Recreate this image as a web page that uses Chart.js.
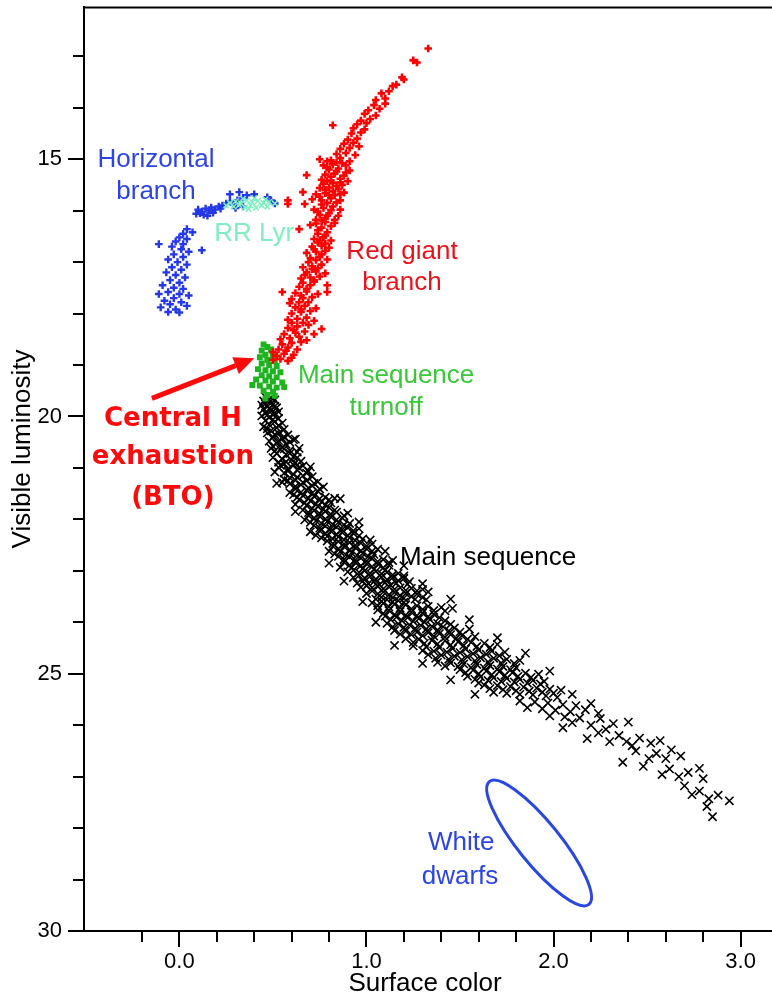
<!DOCTYPE html>
<html>
<head>
  <meta charset="UTF-8">
  <title>Diagrama color-magnitud de un cúmulo globular</title>
  <script src="https://cdn.jsdelivr.net/npm/chart.js"></script>
  <style>
    html, body { margin: 0; padding: 0; background: #fff; overflow: hidden; }
    #caja { width: 792px; height: 1000px; }
  </style>
</head>
<body>
  <div id="caja"><canvas id="grafico"></canvas></div>

  <script>
    // estrellas de la rama horizontal [color, magnitud]
    const ramaHorizontal = [
      [0.10,15.98],[0.12,16.02],[0.14,15.96],[0.16,16.00],[0.11,16.05],[0.13,16.08],[0.09,16.06],[0.15,16.10],
      [0.17,15.94],[0.19,15.98],[0.21,15.92],[0.18,16.04],[0.23,15.90],[0.25,15.86],[0.22,15.96],[0.27,15.82],
      [0.29,15.88],[0.31,15.80],[0.27,15.68],[0.32,15.64],[0.34,15.75],[0.36,15.70],[0.40,15.68],[0.30,15.95],
      [0.34,15.92],[0.49,15.80],[0.51,15.86],[0.47,15.74],
      [0.04,16.36],[0.07,16.42],[0.02,16.45],[-0.11,16.65],[0.12,16.77],[0.00,16.52],[0.04,16.55],[-0.02,16.60],
      [0.02,16.65],[-0.04,16.70],[0.01,16.75],[0.05,16.80],[-0.03,16.85],[0.02,16.90],[-0.06,16.95],[-0.01,17.00],
      [0.04,17.05],[-0.04,17.10],[0.01,17.15],[-0.07,17.20],[-0.02,17.25],[0.03,17.30],[-0.05,17.35],[0.00,17.40],
      [-0.09,17.45],[-0.03,17.50],[0.02,17.52],[-0.06,17.58],[0.00,17.62],[0.05,17.65],[-0.11,17.62],[-0.03,17.70],
      [-0.08,17.75],[0.01,17.78],[-0.05,17.82],[0.04,17.85],[-0.10,17.88],[-0.02,17.92],[-0.06,17.97],[0.00,17.98]
    ];

    // variables RR Lyrae
    const rrLyr = [
      [0.27,15.85],[0.30,15.82],[0.33,15.86],[0.36,15.80],[0.39,15.84],[0.42,15.81],[0.45,15.85],[0.48,15.83],
      [0.51,15.86],[0.29,15.92],[0.32,15.89],[0.35,15.93],[0.38,15.90],[0.41,15.94],[0.44,15.90],[0.47,15.92],
      [0.34,15.77],[0.40,15.76],[0.46,15.78],[0.25,15.90],[0.37,15.97]
    ];

    // rama de gigantes rojas
    const gigantesRojas = [
      [0.50,18.90],[0.54,18.88],[0.58,18.92],[0.52,18.82],[0.56,18.78],[0.61,18.80],[0.53,18.70],[0.58,18.66],
      [0.63,18.70],[0.55,18.60],[0.60,18.57],[0.50,18.75],
      [0.54,18.50],[0.59,18.48],[0.64,18.45],[0.68,18.52],[0.56,18.40],[0.62,18.37],[0.67,18.35],[0.72,18.40],
      [0.58,18.28],[0.63,18.25],[0.69,18.22],[0.76,18.30],[0.60,18.18],
      [0.58,18.12],[0.63,18.10],[0.68,18.08],[0.72,18.14],[0.60,18.00],[0.65,17.97],[0.70,17.95],[0.62,17.88],
      [0.67,17.85],[0.73,17.90],[0.59,17.80],[0.64,17.78],
      [0.55,17.58],[0.60,17.72],[0.66,17.70],[0.71,17.68],[0.62,17.60],[0.68,17.57],[0.74,17.62],[0.64,17.48],
      [0.70,17.45],[0.79,17.45],[0.79,17.58],[0.66,17.40],[0.72,17.38],
      [0.65,17.32],[0.70,17.30],[0.75,17.28],[0.68,17.20],[0.73,17.18],[0.78,17.22],[0.66,17.10],[0.71,17.08],
      [0.76,17.05],[0.69,17.00],
      [0.70,16.92],[0.75,16.90],[0.79,16.95],[0.68,16.82],[0.73,16.80],[0.78,16.78],[0.71,16.70],[0.76,16.68],
      [0.80,16.72],[0.74,16.62],
      [0.64,16.36],[0.70,16.28],[0.72,16.55],[0.77,16.52],[0.81,16.58],[0.74,16.45],[0.79,16.42],[0.76,16.33],
      [0.81,16.30],[0.73,16.25],[0.78,16.22],
      [0.58,15.80],[0.58,15.87],[0.67,15.87],[0.73,16.18],[0.78,16.15],[0.83,16.18],[0.75,16.08],[0.80,16.05],
      [0.85,16.10],[0.72,15.98],[0.77,15.95],[0.82,15.92],[0.86,15.98],[0.79,15.85],
      [0.66,15.64],[0.71,15.78],[0.76,15.80],[0.81,15.76],[0.86,15.80],[0.73,15.68],[0.78,15.66],[0.83,15.70],
      [0.88,15.65],[0.75,15.56],[0.80,15.55],[0.85,15.58],[0.77,15.48],[0.82,15.46],[0.87,15.50],
      [0.68,15.31],[0.76,15.40],[0.81,15.42],[0.86,15.38],[0.90,15.43],[0.78,15.30],[0.83,15.28],[0.88,15.32],
      [0.80,15.20],[0.85,15.18],[0.91,15.22],[0.77,15.12],[0.82,15.10],[0.87,15.08],
      [0.75,15.00],[0.81,15.02],[0.86,14.98],[0.91,15.04],[0.84,14.90],[0.89,14.88],[0.94,14.92],[0.86,14.80],
      [0.91,14.78],[0.88,14.70],[0.93,14.68],[0.96,14.75],
      [0.82,14.34],[0.90,14.62],[0.95,14.60],[0.92,14.50],[0.97,14.48],[0.93,14.40],[0.99,14.42],[0.95,14.32],
      [1.00,14.30],
      [0.97,14.25],[1.02,14.22],[0.99,14.12],[1.05,14.15],[1.01,14.05],[1.07,14.02],[1.04,13.95],[1.10,13.92],
      [1.05,13.85],[1.10,13.82],[1.08,13.72],[1.12,13.68],[1.14,13.58],[1.16,13.55],[1.19,13.41],[1.20,13.45],
      [1.25,13.08],[1.27,13.12],[1.33,12.85],
      [0.79,15.04],[0.84,15.06],[0.89,15.12],[0.79,15.16],[0.84,15.24],[0.89,15.26],[0.81,15.34],[0.86,15.45],
      [0.79,15.43],[0.84,15.52],[0.78,15.60],[0.82,15.62],[0.86,15.68],[0.75,15.73],[0.80,15.70],[0.84,15.84],
      [0.76,15.88],[0.81,15.99],[0.74,16.02],[0.79,16.10],[0.83,16.24],[0.76,16.19],[0.74,16.38],[0.78,16.48],
      [0.75,16.58],[0.78,16.64],[0.72,16.75],[0.76,16.85],[0.73,16.96],[0.71,17.14],[0.74,17.12],[0.67,17.25],
      [0.72,17.35],[0.68,17.52],[0.65,17.65],[0.69,17.78],[0.65,17.92],[0.66,18.18],[0.61,18.32],[0.65,18.55],
      [0.57,18.72],[0.60,18.86]
    ];

    // punto de desvío de la secuencia principal
    const puntoDesvio = [
      [0.45,18.60],[0.47,18.65],[0.44,18.72],[0.49,18.70],[0.46,18.80],[0.50,18.82],[0.43,18.85],[0.47,18.90],
      [0.51,18.92],[0.44,18.97],[0.48,19.00],[0.52,19.02],[0.42,19.08],[0.46,19.10],[0.50,19.12],[0.54,19.14],
      [0.44,19.20],[0.48,19.22],[0.52,19.24],[0.41,19.28],[0.46,19.30],[0.50,19.32],[0.55,19.34],[0.39,19.39],
      [0.43,19.40],[0.48,19.42],[0.52,19.44],[0.56,19.43],[0.45,19.50],[0.50,19.52],[0.47,19.58],[0.51,19.60],
      [0.46,19.65]
    ];

    // secuencia principal
    const secuenciaPrincipal = [
      [0.46,19.62],[0.49,19.64],[0.51,19.68],[0.45,19.70],[0.48,19.73],[0.50,19.77],[0.44,19.78],
      [0.47,19.81],[0.52,19.83],[0.45,19.86],[0.49,19.88],[0.53,19.91],[0.46,19.94],[0.50,19.97],[0.44,19.99],
      [0.48,20.02],[0.53,20.04],[0.46,20.08],[0.51,20.10],[0.55,20.13],[0.48,20.16],[0.45,20.20],[0.52,20.22],
      [0.56,20.25],[0.49,20.28],
      [0.47,20.32],[0.53,20.33],[0.58,20.36],[0.50,20.40],[0.55,20.43],[0.61,20.45],[0.48,20.48],[0.52,20.52],
      [0.57,20.54],[0.62,20.44],[0.50,20.58],[0.55,20.59],
      [0.49,20.62],[0.54,20.64],[0.59,20.66],[0.63,20.69],[0.52,20.72],[0.57,20.74],[0.61,20.78],[0.50,20.80],
      [0.55,20.83],[0.60,20.85],[0.65,20.87],[0.53,20.89],
      [0.56,20.92],[0.61,20.94],[0.66,20.96],[0.53,20.99],[0.58,21.02],[0.63,21.04],[0.69,21.06],[0.51,21.08],
      [0.56,21.10],[0.61,21.13],[0.66,21.15],[0.71,21.17],[0.59,21.19],
      [0.56,21.22],[0.62,21.24],[0.68,21.25],[0.74,21.27],[0.55,21.28],[0.59,21.31],[0.65,21.33],[0.71,21.35],
      [0.77,21.37],[0.62,21.41],[0.68,21.43],[0.74,21.45],[0.59,21.48],
      [0.61,21.52],[0.66,21.54],[0.72,21.55],[0.78,21.57],[0.83,21.59],[0.64,21.62],[0.70,21.64],[0.76,21.66],
      [0.81,21.68],[0.62,21.71],[0.68,21.73],[0.74,21.75],[0.80,21.77],
      [0.66,21.82],[0.72,21.83],[0.78,21.85],[0.84,21.86],[0.90,21.88],[0.69,21.92],[0.75,21.94],[0.81,21.95],
      [0.87,21.97],[0.67,22.01],[0.73,22.03],[0.79,22.04],[0.85,22.06],[0.91,22.08],
      [0.72,22.12],[0.78,22.13],[0.84,22.15],[0.90,22.16],[0.96,22.18],[0.75,22.22],[0.81,22.23],[0.87,22.25],
      [0.93,22.27],[0.73,22.31],[0.79,22.33],[0.85,22.34],[0.91,22.36],[0.98,22.38],[1.02,22.40],
      [0.79,22.42],[0.85,22.43],[0.91,22.45],[0.97,22.46],[1.03,22.48],[0.82,22.52],[0.88,22.53],[0.94,22.55],
      [1.00,22.57],[1.06,22.58],[0.80,22.62],[0.86,22.63],[0.92,22.65],[0.98,22.66],[1.04,22.68],
      [0.85,22.72],[0.91,22.73],[0.97,22.75],[1.03,22.76],[1.09,22.78],[1.14,22.80],[0.88,22.83],[0.94,22.84],
      [1.00,22.86],[1.06,22.87],[1.12,22.89],[0.86,22.93],[0.92,22.94],[0.98,22.96],[1.04,22.97],[1.10,22.99],
      [0.90,23.02],[0.96,23.03],[1.02,23.05],[1.08,23.06],[1.14,23.08],[1.20,23.10],[0.93,23.13],[0.99,23.14],
      [1.05,23.16],[1.11,23.17],[1.17,23.19],[1.23,23.21],[0.95,23.24],[1.01,23.25],[1.07,23.27],[1.13,23.28],
      [0.97,23.32],[1.03,23.33],[1.09,23.35],[1.15,23.36],[1.21,23.38],[1.27,23.39],[1.33,23.41],[1.00,23.44],
      [1.06,23.45],[1.12,23.47],[1.18,23.48],[1.24,23.50],[1.30,23.52],[1.05,23.55],[1.11,23.56],[1.17,23.58],
      [1.03,23.62],[1.09,23.63],[1.15,23.65],[1.21,23.66],[1.27,23.68],[1.33,23.69],[1.40,23.71],[1.46,23.73],
      [1.06,23.76],[1.12,23.77],[1.18,23.79],[1.24,23.80],[1.30,23.82],[1.36,23.84],[1.10,23.88],[1.16,23.90],
      [1.22,23.91],[1.28,23.93],[1.34,23.95],[1.42,23.97],
      [1.11,24.02],[1.17,24.03],[1.23,24.05],[1.29,24.06],[1.35,24.08],[1.41,24.09],[1.47,24.11],[1.55,24.13],
      [1.15,24.16],[1.21,24.17],[1.27,24.19],[1.33,24.20],[1.39,24.22],[1.45,24.24],[1.51,24.26],[1.58,24.28],
      [1.21,24.32],[1.28,24.33],[1.35,24.35],[1.42,24.36],[1.49,24.38],[1.56,24.39],[1.63,24.41],[1.70,24.43],
      [1.25,24.46],[1.32,24.48],[1.39,24.49],[1.46,24.51],[1.53,24.52],[1.60,24.54],[1.67,24.56],[1.74,24.58],
      [1.33,24.63],[1.40,24.64],[1.47,24.66],[1.54,24.67],[1.61,24.69],[1.68,24.70],[1.75,24.72],[1.82,24.74],
      [1.38,24.78],[1.45,24.79],[1.52,24.81],[1.59,24.82],[1.66,24.84],[1.73,24.86],[1.80,24.88],
      [1.50,24.92],[1.57,24.93],[1.64,24.95],[1.71,24.96],[1.78,24.98],[1.85,24.99],[1.92,25.01],[1.54,25.05],
      [1.61,25.06],[1.68,25.08],[1.75,25.09],[1.82,25.11],[1.89,25.13],[1.95,25.15],[1.60,25.18],
      [1.63,25.22],[1.70,25.23],[1.77,25.25],[1.84,25.26],[1.91,25.28],[1.98,25.30],[2.04,25.32],[1.68,25.36],
      [1.75,25.38],[1.82,25.40],[1.89,25.41],[1.96,25.43],[2.02,25.46],
      [1.82,25.53],[1.90,25.55],[1.97,25.57],[2.05,25.60],[2.12,25.62],[2.20,25.58],[1.86,25.66],[1.94,25.68],
      [2.01,25.71],[2.09,25.74],[2.17,25.70],[2.24,25.77],
      [1.98,25.82],[2.06,25.84],[2.14,25.86],[2.25,25.87],[2.32,25.97],[2.40,25.94],[2.10,25.95],[2.20,26.00],
      [2.05,26.05],[2.28,26.08],
      [2.18,26.26],[2.30,26.32],[2.39,26.32],[2.24,26.15],[2.35,26.20],[2.46,26.25],[2.52,26.35],[2.42,26.40],
      [2.57,26.30],
      [2.44,26.50],[2.55,26.55],[2.63,26.48],[2.37,26.72],[2.51,26.65],[2.60,26.65],[2.68,26.60],
      [2.48,26.80],[2.58,26.96],[2.67,27.00],[2.78,26.84],[2.72,26.92],[2.80,27.04],[2.62,26.85],
      [2.70,27.18],[2.74,27.35],[2.83,27.43],[2.94,27.47],[2.85,27.78],[2.78,27.28],[2.88,27.36],[2.82,27.58],
      // parte más poblada de la banda
      [0.48,19.67],[0.46,19.75],[0.51,19.80],[0.48,19.85],[0.51,19.93],[0.47,19.97],[0.50,20.06],[0.53,20.18],
      [0.47,20.24],[0.51,20.35],[0.56,20.40],[0.53,20.47],[0.59,20.50],[0.56,20.63],[0.51,20.67],[0.59,20.72],
      [0.63,20.80],[0.57,20.88],[0.62,20.90],[0.54,20.95],[0.64,21.00],[0.58,21.06],[0.68,21.10],[0.63,21.18],
      [0.58,21.25],[0.66,21.28],[0.72,21.30],[0.62,21.36],[0.69,21.39],[0.75,21.41],[0.65,21.47],[0.71,21.49],
      [0.63,21.57],[0.69,21.59],[0.75,21.60],[0.80,21.62],[0.67,21.68],[0.73,21.70],[0.78,21.72],[0.71,21.79],
      [0.77,21.80],[0.83,21.82],[0.69,21.87],[0.75,21.89],[0.81,21.90],[0.88,21.93],[0.72,21.97],[0.78,21.99],
      [0.84,22.01],[0.70,22.06],[0.76,22.08],[0.82,22.10],[0.88,22.11],[0.75,22.17],[0.81,22.18],[0.87,22.20],
      [0.93,22.22],[0.78,22.27],[0.84,22.29],[0.90,22.31],[0.96,22.32],[0.76,22.36],[0.82,22.38],[0.88,22.40],
      [0.94,22.41],[0.82,22.47],[0.88,22.48],[0.94,22.50],[1.00,22.52],[0.85,22.57],[0.91,22.59],[0.97,22.61],
      [1.03,22.62],[0.83,22.67],[0.89,22.69],[0.95,22.70],[1.01,22.72],[0.88,22.78],[0.94,22.79],[1.00,22.81],
      [1.06,22.82],[1.12,22.84],[0.91,22.89],[0.97,22.90],[1.03,22.92],[1.09,22.94],[0.93,22.99],[0.99,23.00],
      [1.05,23.01],[1.11,23.03],[1.17,23.05],[0.96,23.09],[1.02,23.10],[1.08,23.12],[1.14,23.13],[1.20,23.15],
      [0.98,23.20],[1.04,23.21],[1.10,23.23],[1.16,23.24],[1.22,23.26],[1.00,23.29],[1.06,23.30],[1.12,23.31],
      [1.18,23.33],[1.24,23.34],[1.30,23.36],[1.03,23.39],[1.09,23.41],[1.15,23.42],[1.21,23.44],[1.27,23.45],
      [1.08,23.51],[1.14,23.52],[1.20,23.53],[1.26,23.55],[1.32,23.56],[1.08,23.59],[1.14,23.60],[1.20,23.61],
      [1.06,23.68],[1.12,23.70],[1.18,23.72],[1.24,23.74],[1.30,23.75],[1.36,23.77],[1.42,23.78],[1.09,23.83],
      [1.15,23.85],[1.21,23.86],[1.27,23.87],[1.33,23.89],[1.39,23.91],[1.13,23.95],[1.19,23.97],[1.25,23.98],
      [1.31,24.00],[1.38,24.02],[1.45,24.04],[1.14,24.09],[1.20,24.10],[1.26,24.12],[1.32,24.13],[1.38,24.15],
      [1.44,24.17],[1.50,24.19],[1.18,24.23],[1.24,24.24],[1.30,24.26],[1.36,24.27],[1.42,24.29],[1.48,24.31],
      [1.54,24.33],[1.25,24.39],[1.31,24.41],[1.38,24.42],[1.45,24.44],[1.52,24.45],[1.59,24.47],[1.66,24.49],
      [1.30,24.55],[1.36,24.56],[1.43,24.58],[1.50,24.59],[1.57,24.61],[1.64,24.62],[1.71,24.65],[1.37,24.70],
      [1.44,24.72],[1.51,24.73],[1.58,24.75],[1.65,24.77],[1.72,24.79],[1.79,24.80],[1.42,24.85],[1.49,24.86],
      [1.56,24.88],[1.63,24.89],[1.70,24.91],[1.77,24.92],[1.53,24.98],[1.60,25.00],[1.67,25.02],[1.74,25.03],
      [1.81,25.05],[1.88,25.07],[1.58,25.11],[1.65,25.13],[1.72,25.15],[1.79,25.16],[1.86,25.18],[1.93,25.20],
      [1.66,25.29],[1.73,25.31],[1.80,25.33],[1.87,25.34],[1.94,25.36],[2.00,25.38],
      // estrellas sueltas a los lados de la banda
      [0.64,20.62],[0.70,20.98],[0.52,21.30],[0.86,21.60],[0.62,21.85],[0.96,22.05],[0.70,22.24],[1.10,22.62],
      [0.80,22.85],[1.20,22.90],[0.88,23.20],[1.30,23.25],[0.98,23.60],[1.45,23.55],[1.05,24.00],[1.55,23.95],
      [1.15,24.45],[1.70,24.30],[1.30,24.80],[1.85,24.60],[1.45,25.12],[1.98,24.95],[1.58,25.40],[2.10,25.40]
    ];

    // marcas con número en los ejes
    const etiquetasX = [0, 1, 2, 3];
    const etiquetasY = [15, 20, 25, 30];

    // textos sobre el diagrama (posición en unidades de los ejes)
    const notas = [
      { texto: 'Horizontal', x: -0.125, y: 15.02, color: '#2d45e0' },
      { texto: 'branch', x: -0.125, y: 15.64, color: '#2d45e0' },
      { texto: 'RR Lyr', x: 0.40, y: 16.45, color: '#80eec0' },
      { texto: 'Red giant', x: 1.19, y: 16.80, color: '#e8141c' },
      { texto: 'branch', x: 1.19, y: 17.40, color: '#e8141c' },
      { texto: 'Main sequence', x: 1.105, y: 19.22, color: '#38c838' },
      { texto: 'turnoff', x: 1.105, y: 19.84, color: '#38c838' },
      { texto: 'Main sequence', x: 1.65, y: 22.75, color: '#000' },
      { texto: 'White', x: 1.506, y: 28.29, color: '#2d45e0' },
      { texto: 'dwarfs', x: 1.50, y: 28.95, color: '#2d45e0' }
    ];
    const notaBTO = ['Central H', 'exhaustion', '(BTO)'];

    const aPuntos = lista => lista.map(p => ({ x: p[0], y: p[1] }));

    const fuenteEje = "'Liberation Sans', Arial, sans-serif";

    // dibuja marcas de los ejes, marco superior, textos, flecha y elipse
    const adornos = {
      id: 'adornos',
      afterDatasetsDraw(chart) {
        const ctx = chart.ctx;
        const area = chart.chartArea;
        const ex = chart.scales.x;
        const ey = chart.scales.y;
        ctx.save();

        ctx.strokeStyle = '#000';
        ctx.lineWidth = 2;
        ctx.beginPath();
        ex.ticks.forEach(t => {
          const v = t.value;
          if (Math.abs(v * 5 - Math.round(v * 5)) > 1e-6) return;
          const mayor = Math.abs(v - Math.round(v)) < 1e-6;
          const px = Math.round(ex.getPixelForValue(v));
          ctx.moveTo(px, area.bottom);
          ctx.lineTo(px, area.bottom + (mayor ? 16 : 11));
        });
        ey.ticks.forEach(t => {
          const v = t.value;
          if (Math.abs(v - Math.round(v)) > 1e-6) return;
          const mayor = Math.round(v) % 5 === 0;
          const py = Math.round(ey.getPixelForValue(v));
          ctx.moveTo(area.left, py);
          ctx.lineTo(area.left - (mayor ? 16 : 11), py);
        });
        ctx.moveTo(area.left, area.top);
        ctx.lineTo(area.right, area.top);
        ctx.stroke();

        // títulos de los ejes
        ctx.fillStyle = '#000';
        ctx.font = '26px ' + fuenteEje;
        ctx.textAlign = 'center';
        ctx.textBaseline = 'middle';
        ctx.fillText('Surface color', 425, 984);
        ctx.save();
        ctx.translate(23, 449);
        ctx.rotate(-Math.PI / 2);
        ctx.fillText('Visible luminosity', 0, 0);
        ctx.restore();

        notas.forEach(n => {
          ctx.fillStyle = n.color;
          ctx.fillText(n.texto, ex.getPixelForValue(n.x), ey.getPixelForValue(n.y));
        });

        // nota del agotamiento del hidrógeno central
        ctx.fillStyle = '#ff0a0a';
        ctx.font = "bold 26px 'DejaVu Sans', sans-serif";
        const filasBTO = [20.06, 20.80, 21.58];
        notaBTO.forEach((t, i) => {
          ctx.fillText(t, ex.getPixelForValue(-0.035), ey.getPixelForValue(filasBTO[i]));
        });

        // flecha hacia el punto de desvío
        const x0 = ex.getPixelForValue(-0.147), y0 = ey.getPixelForValue(19.65);
        const x1 = ex.getPixelForValue(0.40), y1 = ey.getPixelForValue(18.87);
        const ang = Math.atan2(y1 - y0, x1 - x0);
        const largo = 20, ancho = 9;
        const bx = x1 - largo * Math.cos(ang), by = y1 - largo * Math.sin(ang);
        ctx.strokeStyle = '#ff0a0a';
        ctx.lineWidth = 5;
        ctx.beginPath();
        ctx.moveTo(x0, y0);
        ctx.lineTo(bx, by);
        ctx.stroke();
        ctx.beginPath();
        ctx.moveTo(x1, y1);
        ctx.lineTo(bx + ancho * Math.sin(ang), by - ancho * Math.cos(ang));
        ctx.lineTo(bx - ancho * Math.sin(ang), by + ancho * Math.cos(ang));
        ctx.closePath();
        ctx.fill();

        // zona de las enanas blancas
        ctx.strokeStyle = '#2a48e0';
        ctx.lineWidth = 3;
        ctx.beginPath();
        ctx.ellipse(ex.getPixelForValue(1.923), ey.getPixelForValue(28.29), 79, 21, 51 * Math.PI / 180, 0, 2 * Math.PI);
        ctx.stroke();

        ctx.restore();
      }
    };

    const contexto = document.getElementById('grafico').getContext('2d');
    new Chart(contexto, {
      type: 'scatter',
      data: {
        datasets: [
          {
            label: 'RR Lyr',
            data: aPuntos(rrLyr),
            pointStyle: 'crossRot',
            pointRadius: 4,
            pointBorderWidth: 1.5,
            pointBorderColor: '#7ff0c0'
          },
          {
            label: 'Horizontal branch',
            data: aPuntos(ramaHorizontal),
            pointStyle: 'cross',
            pointRadius: 3.8,
            pointBorderWidth: 2.4,
            pointBorderColor: '#2438e6'
          },
          {
            label: 'Red giant branch',
            data: aPuntos(gigantesRojas),
            pointStyle: 'cross',
            pointRadius: 3.8,
            pointBorderWidth: 2.6,
            pointBorderColor: '#ff0000'
          },
          {
            label: 'Main sequence turnoff',
            data: aPuntos(puntoDesvio),
            pointStyle: 'rect',
            pointRadius: 4.2,
            pointBorderWidth: 0,
            pointBackgroundColor: '#1db41d',
            pointBorderColor: '#1db41d'
          },
          {
            label: 'Main sequence',
            data: aPuntos(secuenciaPrincipal),
            pointStyle: 'crossRot',
            pointRadius: 5.8,
            pointBorderWidth: 1.6,
            pointBorderColor: '#000'
          }
        ]
      },
      options: {
        responsive: true,
        maintainAspectRatio: false,
        animation: false,
        layout: { padding: { top: 5, right: 14, left: 0, bottom: 0 } },
        plugins: {
          legend: { display: false },
          tooltip: { enabled: false }
        },
        scales: {
          x: {
            type: 'linear',
            min: -0.51,
            max: 3.2,
            ticks: {
              stepSize: 0.2,
              autoSkip: false,
              maxRotation: 0,
              padding: 2,
              color: '#000',
              font: { family: fuenteEje, size: 22 },
              callback: v => etiquetasX.some(e => Math.abs(e - v) < 1e-6) ? v.toFixed(1) : ''
            },
            grid: { drawOnChartArea: false, tickLength: 16, tickColor: 'rgba(0,0,0,0)' },
            border: { color: '#000', width: 2 },
            afterFit: escala => {
              escala.height = 69;
              escala.paddingLeft = 0;
              escala.paddingRight = 0;
            }
          },
          y: {
            type: 'linear',
            reverse: true,
            min: 12.05,
            max: 30,
            ticks: {
              stepSize: 1,
              autoSkip: false,
              padding: 6,
              color: '#000',
              font: { family: fuenteEje, size: 22 },
              callback: v => etiquetasY.some(e => Math.abs(e - v) < 1e-6) ? String(Math.round(v)) : ''
            },
            grid: { drawOnChartArea: false, tickLength: 16, tickColor: 'rgba(0,0,0,0)' },
            border: { color: '#000', width: 2 },
            afterFit: escala => {
              escala.width = 84;
              escala.paddingTop = 0;
              escala.paddingBottom = 0;
            }
          }
        }
      },
      plugins: [adornos]
    });
  </script>
</body>
</html>
